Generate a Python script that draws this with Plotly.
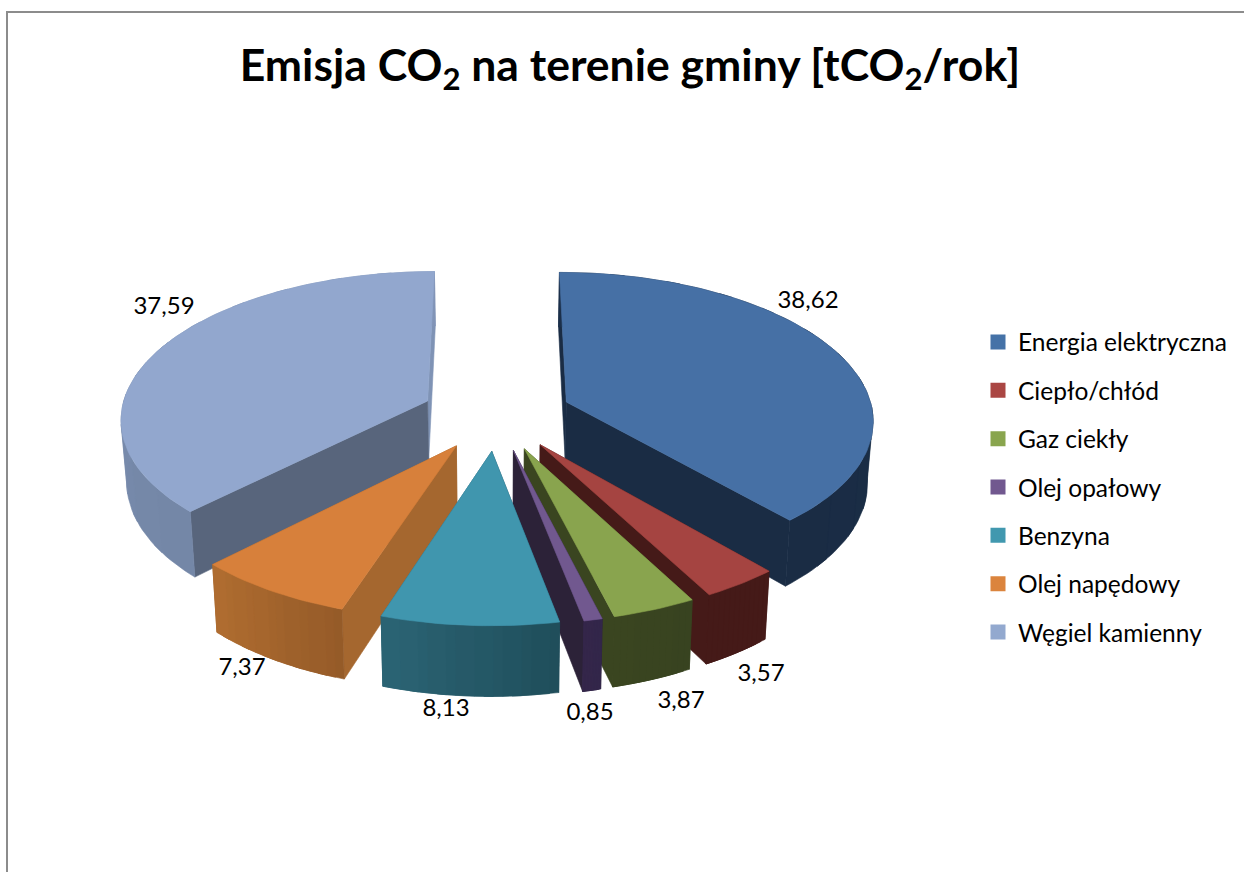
import math
import plotly.graph_objects as go

# ---- data -------------------------------------------------------------
names = ["Energia elektryczna", "Ciepło/chłód", "Gaz ciekły", "Olej opałowy",
         "Benzyna", "Olej napędowy", "Węgiel kamienny"]
values = [38.62, 3.57, 3.87, 0.85, 8.13, 7.37, 37.59]

# ---- styles ------------------------------------------------------------
legend_colors = ["#4572A7", "#AA4643", "#89A54E", "#71588F", "#4198AF", "#DB843D", "#93A9CF"]
top_colors    = ["#4670A5", "#A54441", "#89A44E", "#71588F", "#4096AE", "#D7803B", "#92A7CE"]
wall_left     = ["#1A2C44", "#451A18", "#3A4520", "#34264A", "#2B6474", "#B06D30", "#8295B8"]
wall_right    = ["#1B2F4A", "#451A18", "#384320", "#33264A", "#1F4D5A", "#945A28", "#7386A6"]
cut_start     = ["#1A2C44", "#451A18", "#3A4520", "#2C2238", "#1F4D5A", "#A5672F", "#58657C"]
cut_end       = ["#1A2C44", "#451A18", "#3A4520", "#2C2238", "#2B6474", "#A5672F", "#7F93B5"]
draw_order = [6, 0, 1, 5, 2, 3, 4]
label_xy = [(808, 302), (761, 675), (681, 702), (590, 714), (446, 710), (242, 669), (164, 308)]

FONT = "Lato, Carlito, Calibri, sans-serif"
W, H = 1244, 872
CX, CY = 496.5, 414.5  # pie centre on the page
R, Q = 307, 146.5      # horizontal / depth radius
P = 0.11               # perspective strength
EXPL = 0.245           # explosion as share of radius
THICK = 61             # pie thickness
SHRINK = 0.985         # narrowing of the bottom rim


def proj(u, v, bottom=False):
    s = 1 / (1 - P * v)
    x = R * u * s
    y = CY + Q * v * s
    if bottom:
        x *= SHRINK
        y += THICK * s
    return CX + x, y


def mix(c1, c2, t):
    a = [int(c1[i:i + 2], 16) for i in (1, 3, 5)]
    b = [int(c2[i:i + 2], 16) for i in (1, 3, 5)]
    return "#" + "".join(f"{round(p + (q - p) * t):02x}" for p, q in zip(a, b))


def poly(points, color):
    return go.Scatter(x=[p[0] for p in points] + [points[0][0]],
                      y=[p[1] for p in points] + [points[0][1]],
                      mode="lines", fill="toself", fillcolor=color,
                      line=dict(color=color, width=0.6),
                      hoverinfo="skip", showlegend=False)


fig = go.Figure()
total = sum(values)
starts, acc = [], 0.0
for val in values:
    starts.append(acc)
    acc += val
for i in draw_order:
    a0 = 2 * math.pi * starts[i] / total
    a1 = a0 + 2 * math.pi * values[i] / total
    mid = (a0 + a1) / 2
    ou, ov = EXPL * math.sin(mid), -EXPL * math.cos(mid)

    def rim(a):
        return ou + math.sin(a), ov - math.cos(a)

    n = max(12, int((a1 - a0) / math.radians(1.5)))
    angles = [a0 + (a1 - a0) * k / n for k in range(n + 1)]
    # radial cut faces: the one further back first
    cuts = [(a0, cut_start[i]), (a1, cut_end[i])]
    cuts.sort(key=lambda c: rim(c[0])[1])
    for a, col in cuts:
        u, v = rim(a)
        fig.add_trace(poly([proj(ou, ov), proj(u, v), proj(u, v, True), proj(ou, ov, True)], col))
    # curved outer wall in colour bands (each band runs under the next one)
    bands = 12
    for b in range(bands):
        j0 = n * b // bands
        j1 = n * (b + 1) // bands
        arc = angles[j0:j1 + 3]
        pts = [proj(*rim(a)) for a in arc] + [proj(*rim(a), True) for a in reversed(arc)]
        fig.add_trace(poly(pts, mix(wall_right[i], wall_left[i], (b + 0.5) / bands)))
    # top face
    fig.add_trace(poly([proj(ou, ov)] + [proj(*rim(a)) for a in angles], top_colors[i]))

# value labels
fig.add_trace(go.Scatter(
    x=[p[0] for p in label_xy], y=[p[1] for p in label_xy],
    text=[f"{v:.2f}".replace(".", ",") for v in values],
    mode="text", textposition="middle center",
    textfont=dict(family=FONT, size=24, color="#000000"),
    hoverinfo="skip", showlegend=False))

# legend entries
for name, col in zip(names, legend_colors):
    fig.add_trace(go.Scatter(x=[None], y=[None], mode="markers", name=name, legendgroup=name,
                             marker=dict(symbol="square", size=15, color=col, line=dict(width=0))))

fig.update_layout(
    width=W, height=H, autosize=False,
    margin=dict(l=0, r=0, t=0, b=0),
    paper_bgcolor="white", plot_bgcolor="white",
    xaxis=dict(range=[0, W], visible=False, fixedrange=True),
    yaxis=dict(range=[H, 0], visible=False, fixedrange=True),
    title=dict(text="<b>Emisja CO<sub>2</sub> na terenie gminy [tCO<sub>2</sub>/rok]</b>",
               x=630 / W, xanchor="center", xref="paper",
               y=1 - 65 / H, yanchor="middle", yref="paper",
               font=dict(family=FONT, size=44.5, color="#000000")),
    legend=dict(x=978 / W, xanchor="left", y=1 - 487 / H, yanchor="middle",
                bgcolor="rgba(0,0,0,0)", borderwidth=0, tracegroupgap=13.5,
                font=dict(family=FONT, size=24.5, color="#000000"), itemwidth=30),
    showlegend=True,
    shapes=[
        dict(type="line", xref="x", yref="y", x0=7, x1=7, y0=12, y1=H, line=dict(color="#8C8C8C", width=2)),
        dict(type="line", xref="x", yref="y", x0=6, x1=W, y0=12, y1=12, line=dict(color="#8C8C8C", width=2)),
    ],
)
fig.write_html("out.html", config={"displayModeBar": False},
               post_script="document.body.style.margin='0';")
